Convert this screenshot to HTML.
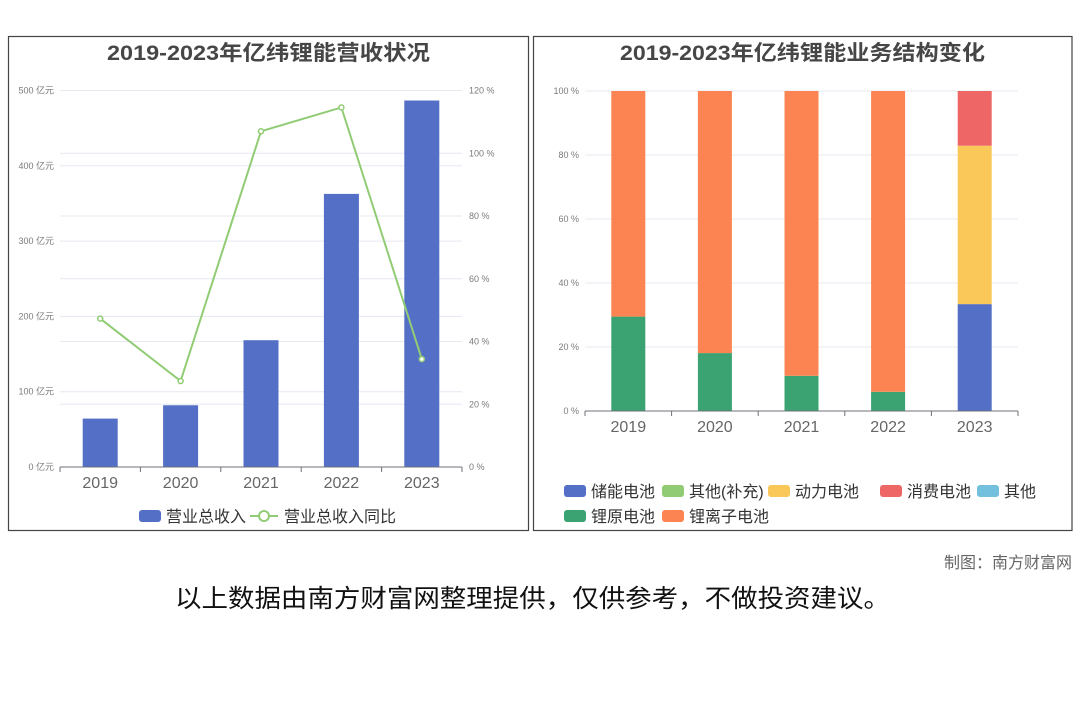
<!DOCTYPE html>
<html><head><meta charset="utf-8"><style>
body{margin:0;width:1080px;height:720px;background:#fff;overflow:hidden;font-family:"Liberation Sans","Noto Sans CJK SC",sans-serif}
svg{position:absolute;left:0;top:0}
</style></head><body>
<svg id="s" width="1080" height="720" xmlns="http://www.w3.org/2000/svg">
<rect x="8.5" y="36.5" width="520" height="494" fill="none" stroke="#444" stroke-width="1.2"/>
<rect x="533.5" y="36.5" width="538.5" height="494" fill="none" stroke="#444" stroke-width="1.2"/>
<text x="107" y="60" textLength="323" lengthAdjust="spacingAndGlyphs" font-size="21" font-weight="bold" fill="#464646">2019-2023年亿纬锂能营收状况</text>
<text x="620" y="60" textLength="365" lengthAdjust="spacingAndGlyphs" font-size="21" font-weight="bold" fill="#464646">2019-2023年亿纬锂能业务结构变化</text>
<g id="L"></g><g id="R"></g>
<text x="1072" y="568" text-anchor="end" font-size="16" fill="#666">制图：南方财富网</text>
<text x="175" y="607" textLength="715" lengthAdjust="spacingAndGlyphs" font-size="25" fill="#111">以上数据由南方财富网整理提供，仅供参考，不做投资建议。</text>
</svg>
<script>
const years=['2019','2020','2021','2022','2023'];
const revenue=[64.3,82,168.4,362.7,486.7];
const growth=[47.3,27.4,107,114.6,34.4];
const revTicks=[0,100,200,300,400,500];
const pctTicks=[0,20,40,60,80,100,120];
const seriesNames=['储能电池','其他(补充)','动力电池','消费电池','其他','锂原电池','锂离子电池'];
const seriesColors=['#5470c6','#91cc75','#fac858','#ee6666','#73c0de','#3ba272','#fc8452'];
const storage=[0,0,0,0,33.4];
const otherSup=[0,0,0,0,0];
const power=[0,0,0,0,49.5];
const consumer=[0,0,0,0,17.1];
const other=[0,0,0,0,0];
const primary=[29.5,18.1,11.0,6.0,0];
const liion=[70.5,81.9,89.0,94.0,0];
const stackTicks=[0,20,40,60,80,100];
const NS='http://www.w3.org/2000/svg';
function mk(p,t,a,txt){const e=document.createElementNS(NS,t);for(const k in a)e.setAttribute(k,a[k]);if(txt!=null)e.textContent=txt;p.appendChild(e);return e;}
// Left
const L=document.getElementById('L');
const lx0=60,lx1=462,ly0=467,ly1=90.5;
const yL=v=>ly0-(v/500)*(ly0-ly1), yR=v=>ly0-(v/120)*(ly0-ly1);
const bw=(lx1-lx0)/years.length, cx=i=>lx0+bw*(i+.5);
revTicks.forEach(v=>{let g=mk(L,'line',{x1:lx0,x2:lx1,y1:yL(v),y2:yL(v),stroke:'#e6e8f2'});
let t=mk(L,'text',{x:54,y:yL(v)+3,'text-anchor':'end','font-size':9,fill:'#7a7a7a'},v+' 亿元');});
pctTicks.forEach(v=>{let g=mk(L,'line',{x1:lx0,x2:lx1,y1:yR(v),y2:yR(v),stroke:'#e6e8f2'});
let t=mk(L,'text',{x:469,y:yR(v)+3,'font-size':9,fill:'#7a7a7a'},v+' %');});
revenue.forEach((v,i)=>{let r=mk(L,'rect',{x:cx(i)-17.5,y:yL(v),width:35,height:ly0-yL(v),fill:'#5470c6'});});
let ax=mk(L,'line',{x1:lx0,x2:lx1,y1:ly0,y2:ly0,stroke:'#6e7079'});
years.forEach((y,i)=>{mk(L,'line',{x1:lx0+bw*i,x2:lx0+bw*i,y1:ly0,y2:ly0+5,stroke:'#6e7079'});
let t=mk(L,'text',{x:cx(i),y:488,'text-anchor':'middle','font-size':16,fill:'#666'},y);});
mk(L,'line',{x1:lx1,x2:lx1,y1:ly0,y2:ly0+5,stroke:'#6e7079'});
let pl=mk(L,'polyline',{points:growth.map((v,i)=>cx(i)+','+yR(v)).join(' '),fill:'none',stroke:'#91cc75','stroke-width':2});
growth.forEach((v,i)=>{let c=mk(L,'circle',{cx:cx(i),cy:yR(v),r:2.5,fill:'#fff',stroke:'#91cc75','stroke-width':1.5});});
let lg1=mk(L,'rect',{x:139,y:510,width:22,height:12,rx:3,fill:'#5470c6'});
let lt1=mk(L,'text',{x:166,y:522,'font-size':16,fill:'#333'},'营业总收入');
mk(L,'line',{x1:250,x2:278,y1:516,y2:516,stroke:'#91cc75','stroke-width':2});
mk(L,'circle',{cx:264,cy:516,r:5,fill:'#fff',stroke:'#91cc75','stroke-width':2});
let lt2=mk(L,'text',{x:284,y:522,'font-size':16,fill:'#333'},'营业总收入同比');
// Right
const R=document.getElementById('R');
const rx0=585,rx1=1018,ry0=411,ry1=91;
const yS=v=>ry0-(v/100)*(ry0-ry1);
const rbw=(rx1-rx0)/years.length, rcx=i=>rx0+rbw*(i+.5);
stackTicks.forEach(v=>{let g=mk(R,'line',{x1:rx0,x2:rx1,y1:yS(v),y2:yS(v),stroke:'#e6e8f2'});
let t=mk(R,'text',{x:579,y:yS(v)+3,'text-anchor':'end','font-size':9,fill:'#7a7a7a'},v+' %');});
const series=[storage,otherSup,power,consumer,other,primary,liion];
const order=[5,6,0,1,2,3,4];
years.forEach((y,i)=>{let base=0;order.forEach(s=>{const v=series[s][i];if(v<=0)return;
let r=mk(R,'rect',{x:rcx(i)-17,y:yS(base+v),width:34,height:yS(base)-yS(base+v),fill:seriesColors[s]});base+=v;});});
let rax=mk(R,'line',{x1:rx0,x2:rx1,y1:ry0,y2:ry0,stroke:'#6e7079'});
years.forEach((y,i)=>{mk(R,'line',{x1:rx0+rbw*i,x2:rx0+rbw*i,y1:ry0,y2:ry0+5,stroke:'#6e7079'});
let t=mk(R,'text',{x:rcx(i),y:432,'text-anchor':'middle','font-size':16,fill:'#666'},y);});
mk(R,'line',{x1:rx1,x2:rx1,y1:ry0,y2:ry0+5,stroke:'#6e7079'});
const legX=[564,662,768,880,977,564,662],legY=[491,491,491,491,491,516,516];
seriesNames.forEach((n,s)=>{let r=mk(R,'rect',{x:legX[s],y:legY[s]-6,width:22,height:12,rx:3,fill:seriesColors[s]});
let t=mk(R,'text',{x:legX[s]+27,y:legY[s]+6,'font-size':16,fill:'#333'},n);});
</script>
</body></html>
